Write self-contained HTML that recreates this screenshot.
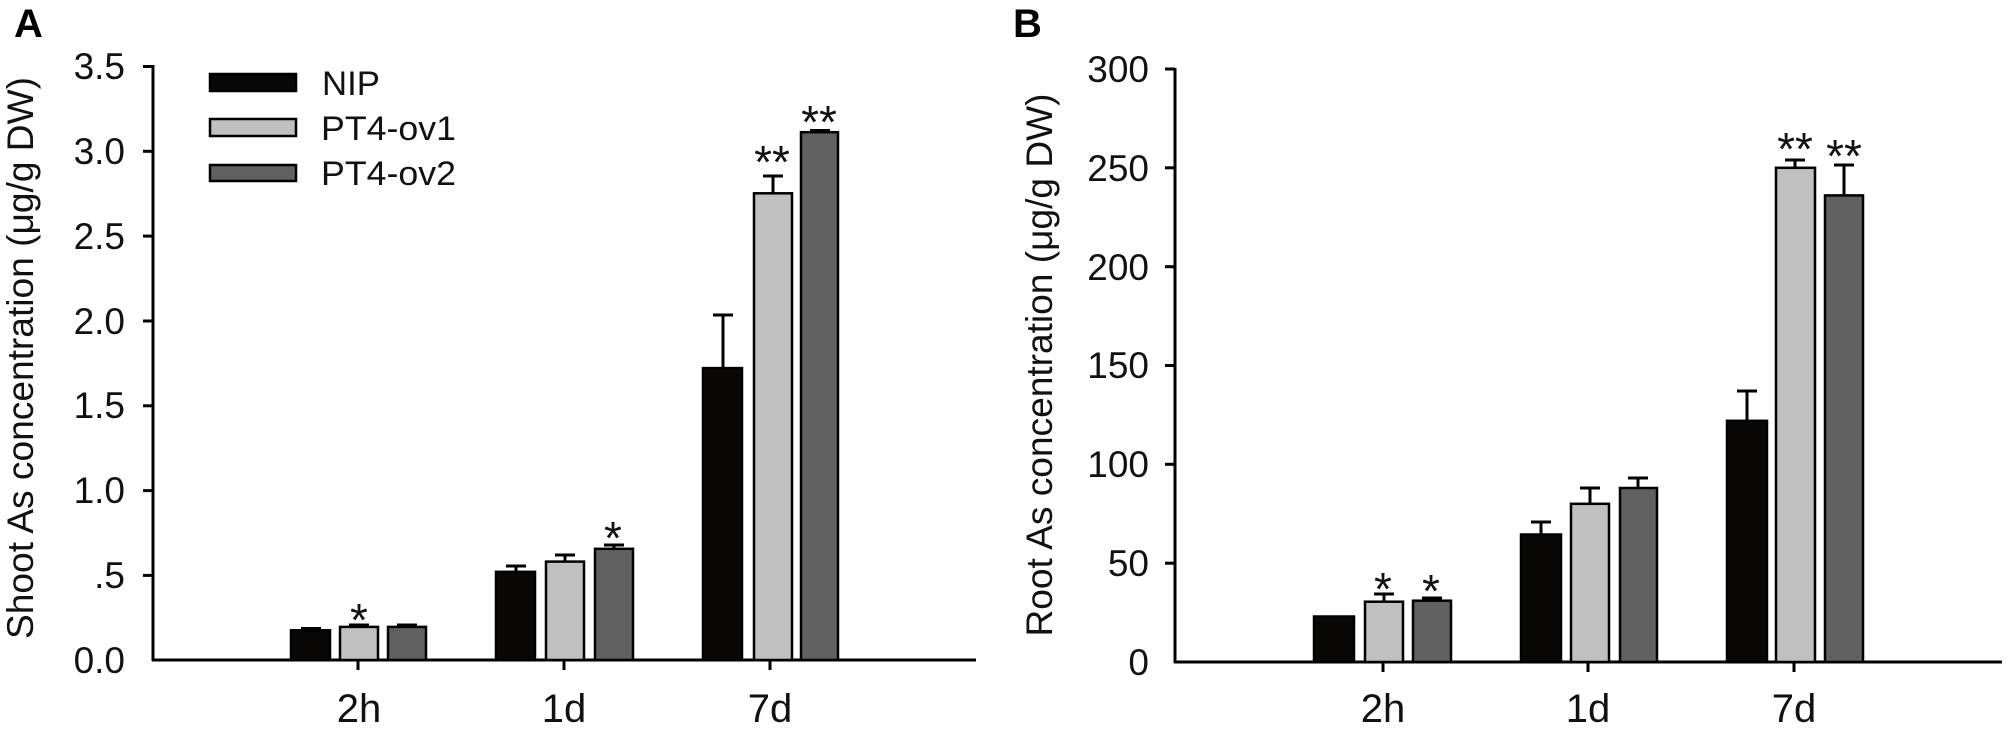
<!DOCTYPE html>
<html><head><meta charset="utf-8"><style>html,body{margin:0;padding:0;background:#fff}svg{display:block}</style></head>
<body>
<svg width="2013" height="732" viewBox="0 0 2013 732" xmlns="http://www.w3.org/2000/svg" font-family="Liberation Sans, Arial, sans-serif" fill="#000">
<!-- Panel A -->
<text x="14" y="37" font-size="40" font-weight="bold">A</text>
<text transform="translate(33,358) rotate(-90)" font-size="37" text-anchor="middle" textLength="562" lengthAdjust="spacingAndGlyphs" fill="#111">Shoot As concentration (μg/g DW)</text>
<g stroke="#000" stroke-width="3" fill="none">
<line x1="153" y1="65" x2="153" y2="661"/>
<line x1="152" y1="660" x2="976" y2="660"/>
<line x1="143" y1="66.5" x2="153" y2="66.5"/>
<line x1="143" y1="151.3" x2="153" y2="151.3"/>
<line x1="143" y1="236.1" x2="153" y2="236.1"/>
<line x1="143" y1="321" x2="153" y2="321"/>
<line x1="143" y1="405.8" x2="153" y2="405.8"/>
<line x1="143" y1="490.6" x2="153" y2="490.6"/>
<line x1="143" y1="575.4" x2="153" y2="575.4"/>
<line x1="358" y1="660" x2="358" y2="670"/>
<line x1="564" y1="660" x2="564" y2="670"/>
<line x1="770" y1="660" x2="770" y2="670"/>
</g>
<g font-size="37" text-anchor="end" fill="#111">
<text x="125" y="79">3.5</text>
<text x="125" y="164">3.0</text>
<text x="125" y="249">2.5</text>
<text x="125" y="334">2.0</text>
<text x="125" y="418">1.5</text>
<text x="125" y="503">1.0</text>
<text x="125" y="588">.5</text>
<text x="125" y="673">0.0</text>
</g>
<g font-size="40" text-anchor="middle" fill="#111">
<text x="359" y="722">2h</text><text x="564" y="722">1d</text><text x="770" y="722">7d</text>
</g>
<!-- legend -->
<g stroke="#000" stroke-width="2.5">
<rect x="210" y="74" width="86" height="17" fill="#0a0707"/>
<rect x="210" y="119" width="86" height="17" fill="#c0c0c0"/>
<rect x="210" y="165" width="86" height="16" fill="#606060"/>
</g>
<g font-size="34" fill="#111">
<text x="322" y="95" textLength="58" lengthAdjust="spacingAndGlyphs">NIP</text>
<text x="321" y="140" textLength="135" lengthAdjust="spacingAndGlyphs">PT4-ov1</text>
<text x="321" y="185" textLength="135" lengthAdjust="spacingAndGlyphs">PT4-ov2</text>
</g>
<!-- bars A -->
<g stroke="#000" stroke-width="2.5">
<rect x="291" y="630.3" width="39" height="29.7" fill="#0a0707"/>
<rect x="340" y="626.9" width="38" height="33.1" fill="#c0c0c0"/>
<rect x="388" y="626.9" width="38" height="33.1" fill="#606060"/>
<rect x="496" y="571.8" width="39" height="88.2" fill="#0a0707"/>
<rect x="546" y="561.6" width="38" height="98.4" fill="#c0c0c0"/>
<rect x="595" y="548.8" width="38" height="111.2" fill="#606060"/>
<rect x="703" y="368.1" width="39" height="291.9" fill="#0a0707"/>
<rect x="754" y="193.3" width="38" height="466.7" fill="#c0c0c0"/>
<rect x="801" y="132.2" width="37" height="527.8" fill="#606060"/>
</g>
<g stroke="#000" stroke-width="3" fill="none">
<path d="M311 630V628.5M301 628.5H321"/>
<path d="M359 627V625M349 625H369"/>
<path d="M407 627V625M397 625H417"/>
<path d="M516 572V566M506 566H526"/>
<path d="M565 562V555M555 555H575"/>
<path d="M614 549V545M604 545H624"/>
<path d="M723 368V315M713 315H733"/>
<path d="M773 193V176M763 176H783"/>
<path d="M820 132V130.5M810 130.5H830"/>
</g>
<g font-size="46" text-anchor="middle" fill="#111">
<text x="359" y="636">*</text>
<text x="613" y="554">*</text>
<text x="772" y="178">**</text>
<text x="819" y="138">**</text>
</g>
<!-- Panel B -->
<text x="1013" y="37" font-size="40" font-weight="bold">B</text>
<text transform="translate(1052,365) rotate(-90)" font-size="37" text-anchor="middle" textLength="543" lengthAdjust="spacingAndGlyphs" fill="#111">Root As concentration (μg/g DW)</text>
<g stroke="#000" stroke-width="3" fill="none">
<line x1="1175" y1="68" x2="1175" y2="663"/>
<line x1="1174" y1="662" x2="2002" y2="662"/>
<line x1="1165" y1="69" x2="1175" y2="69"/>
<line x1="1165" y1="167.8" x2="1175" y2="167.8"/>
<line x1="1165" y1="266.7" x2="1175" y2="266.7"/>
<line x1="1165" y1="365.5" x2="1175" y2="365.5"/>
<line x1="1165" y1="464.3" x2="1175" y2="464.3"/>
<line x1="1165" y1="563.2" x2="1175" y2="563.2"/>
<line x1="1383" y1="662" x2="1383" y2="672"/>
<line x1="1588" y1="662" x2="1588" y2="672"/>
<line x1="1794" y1="662" x2="1794" y2="672"/>
</g>
<g font-size="37" text-anchor="end" fill="#111">
<text x="1149" y="82">300</text>
<text x="1149" y="181">250</text>
<text x="1149" y="280">200</text>
<text x="1149" y="378">150</text>
<text x="1149" y="477">100</text>
<text x="1149" y="576">50</text>
<text x="1149" y="675">0</text>
</g>
<g font-size="40" text-anchor="middle" fill="#111">
<text x="1383" y="722">2h</text><text x="1588" y="722">1d</text><text x="1794" y="722">7d</text>
</g>
<g stroke="#000" stroke-width="2.5">
<rect x="1314" y="616.5" width="40" height="45.5" fill="#0a0707"/>
<rect x="1365" y="601.7" width="38" height="60.3" fill="#c0c0c0"/>
<rect x="1413" y="600.7" width="38" height="61.3" fill="#606060"/>
<rect x="1521" y="534.5" width="40" height="127.5" fill="#0a0707"/>
<rect x="1571" y="503.8" width="38" height="158.2" fill="#c0c0c0"/>
<rect x="1620" y="488" width="37" height="174" fill="#606060"/>
<rect x="1727" y="420.8" width="40" height="241.2" fill="#0a0707"/>
<rect x="1776" y="167.8" width="39" height="494.2" fill="#c0c0c0"/>
<rect x="1825" y="195.4" width="38" height="466.6" fill="#606060"/>
</g>
<g stroke="#000" stroke-width="3" fill="none">
<path d="M1384 602V594M1374 594H1394"/>
<path d="M1432 601V598M1422 598H1442"/>
<path d="M1541 535V522M1531 522H1551"/>
<path d="M1590 504V488M1580 488H1600"/>
<path d="M1638 488V478M1628 478H1648"/>
<path d="M1747 421V391M1737 391H1757"/>
<path d="M1795 168V160M1785 160H1805"/>
<path d="M1844 195V165M1834 165H1854"/>
</g>
<g font-size="46" text-anchor="middle" fill="#111">
<text x="1383" y="605">*</text>
<text x="1431" y="607">*</text>
<text x="1795" y="165">**</text>
<text x="1844" y="172">**</text>
</g>
</svg>
</body></html>
